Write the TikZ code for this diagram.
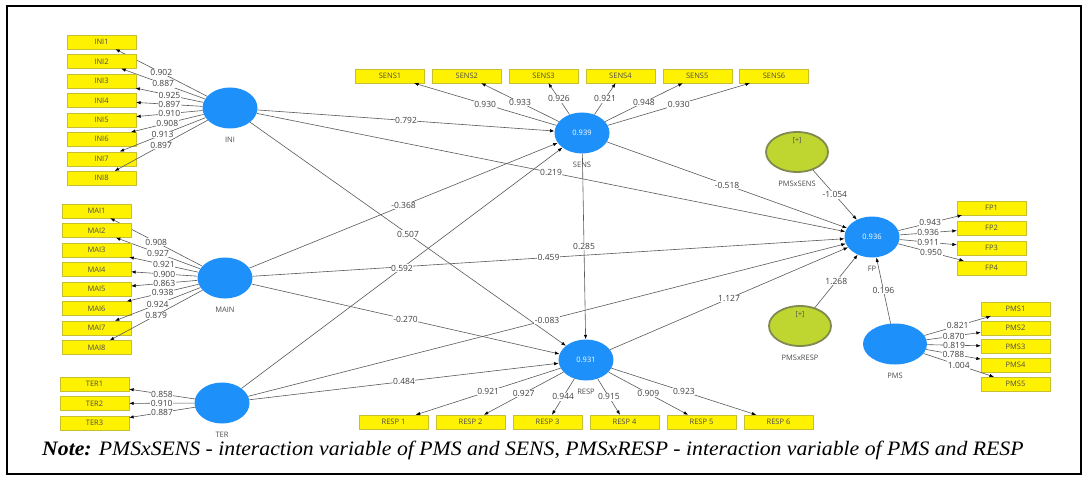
\documentclass[tikz,border=0pt]{standalone}
\usepackage{fontspec}
\setmainfont{Liberation Serif}
\newfontfamily\plsfont{Open Sans}
\usetikzlibrary{shapes.geometric,arrows.meta}

\definecolor{plsblue}{RGB}{30,144,250}
\definecolor{plsolive}{RGB}{192,214,48}
\definecolor{plsrim}{RGB}{128,138,80}

\tikzset{
  latent/.style={ellipse, fill=plsblue, minimum width=55, minimum height=41,
    inner sep=0pt, text=white, font=\plsfont\fontsize{7.5}{8}\selectfont},
  modvar/.style={ellipse, fill=plsolive, draw=plsrim, line width=1.8pt,
    minimum width=62, minimum height=40, inner sep=0pt},
  indicator/.style={rectangle, fill=yellow, draw=yellow!75!black, line width=0.3pt,
    minimum width=69, minimum height=14, inner sep=0pt, text=black!70,
    font=\plsfont\fontsize{7.5}{8}\selectfont},
  name below/.style={label={[text=black!70, font=\plsfont\fontsize{7.5}{8}\selectfont,
    label distance=5pt]below:#1}},
  plus sign/.style={label={[yshift=11pt, text=black!70,
    font=\plsfont\fontsize{7}{8}\selectfont]center:{[+]}}},
  link/.style={draw=black!65, line width=0.6pt,
    -{Latex[length=4.5pt,width=3.4pt,black]}},
  coef/.style={fill=white, inner sep=0.6pt, text=black!75,
    font=\plsfont\fontsize{8.5}{9}\selectfont},
}

\begin{document}
\begin{tikzpicture}[x=1pt, y=-1pt]

  \useasboundingbox (0,0) rectangle (1087,484);

  %%-- OUTER BORDER --%%
  \draw[line width=2.2pt] (7,6) rectangle (1081,474);

  %%-- LATENT VARIABLES --%%
  \node[latent, name below=INI]  (INI)  at (230,108) {};
  \node[latent, name below=MAIN] (MAIN) at (225,278) {};
  \node[latent, name below=TER]  (TER)  at (222,403) {};
  \node[latent, name below=SENS] (SENS) at (582,133) {0.939};
  \node[latent, name below=RESP] (RESP) at (586,360) {0.931};
  \node[latent, name below=FP]   (FP)   at (872,237) {0.936};
  \node[latent, minimum width=64, name below=PMS] (PMS) at (895,344) {};

  %% interaction terms
  \node[modvar, name below=PMSxSENS, plus sign] (PMSxSENS) at (797,152) {};
  \node[modvar, name below=PMSxRESP, plus sign] (PMSxRESP) at (800,326) {};

  %%-- INDICATOR BOXES + LOADINGS --%%
  % INI block, left column (rows 19.45 apart)
  \foreach \i/\c [count=\k from 0] in {1/0.902, 2/0.887, 3/0.925, 4/0.897,
                                        5/0.910, 6/0.908, 7/0.913, 8/0.897} {
    \node[indicator] (INI\i) at (101.5, {42+19.45*\k}) {INI\i};
    \draw[link] (INI) -- (INI\i) node[coef, midway] {\c};
  }
  % MAIN block
  \foreach \i/\c [count=\k from 0] in {1/0.908, 2/0.927, 3/0.921, 4/0.900,
                                        5/0.863, 6/0.938, 7/0.924, 8/0.879} {
    \node[indicator] (MAI\i) at (96.5, {211+19.5*\k}) {MAI\i};
    \draw[link] (MAIN) -- (MAI\i) node[coef, midway] {\c};
  }
  % TER block
  \foreach \i/\c [count=\k from 0] in {1/0.858, 2/0.910, 3/0.887} {
    \node[indicator] (TER\i) at (94.5, {384+19.5*\k}) {TER\i};
    \draw[link] (TER) -- (TER\i) node[coef, midway] {\c};
  }
  % SENS block, top row
  \foreach \i/\c [count=\k from 0] in {1/0.930, 2/0.933, 3/0.926,
                                        4/0.921, 5/0.948, 6/0.930} {
    \node[indicator] (SENS\i) at ({390+76.8*\k}, 76) {SENS\i};
    \draw[link] (SENS) -- (SENS\i) node[coef, midway] {\c};
  }
  % RESP block, bottom row
  \foreach \i/\c [count=\k from 0] in {1/0.921, 2/0.927, 3/0.944,
                                        4/0.915, 5/0.909, 6/0.923} {
    \node[indicator] (RESP\i) at ({393.5+77*\k}, 422) {RESP \i};
    \draw[link] (RESP) -- (RESP\i) node[coef, midway] {\c};
  }
  % FP block
  \foreach \i/\c [count=\k from 0] in {1/0.943, 2/0.936, 3/0.911, 4/0.950} {
    \node[indicator] (FP\i) at (991.5, {208+20*\k}) {FP\i};
    \draw[link] (FP) -- (FP\i) node[coef, midway] {\c};
  }
  % PMS block
  \foreach \i/\c [count=\k from 0] in {1/0.821, 2/0.870, 3/0.819, 4/0.788, 5/1.004} {
    \node[indicator] (PMS\i) at (1015.5, {309+18.75*\k}) {PMS\i};
    \draw[link] (PMS) -- (PMS\i) node[coef, midway] {\c};
  }

  %%-- STRUCTURAL PATHS --%%
  \foreach \s/\t/\c in {INI/SENS/0.792, INI/FP/0.219, INI/RESP/0.507,
                        MAIN/SENS/-0.368, MAIN/FP/0.459, MAIN/RESP/-0.270,
                        TER/SENS/0.592, TER/FP/-0.083, TER/RESP/0.484,
                        SENS/FP/-0.518, SENS/RESP/0.285, RESP/FP/1.127,
                        PMSxSENS/FP/-1.054, PMSxRESP/FP/1.268, PMS/FP/0.196} {
    \draw[link] (\s) -- (\t) node[coef, midway] {\c};
  }

  %%-- NOTE --%%
  \node[anchor=base west, inner sep=0pt, font=\fontsize{20.5}{22}\selectfont] (note)
    at (42,455) {\scalebox{1.06}[1]{\textbf{\textit{Note:}} \textit{PMSxSENS - interaction
    variable of PMS and SENS, PMSxRESP - interaction variable of PMS and RESP}}};

\end{tikzpicture}
\end{document}
